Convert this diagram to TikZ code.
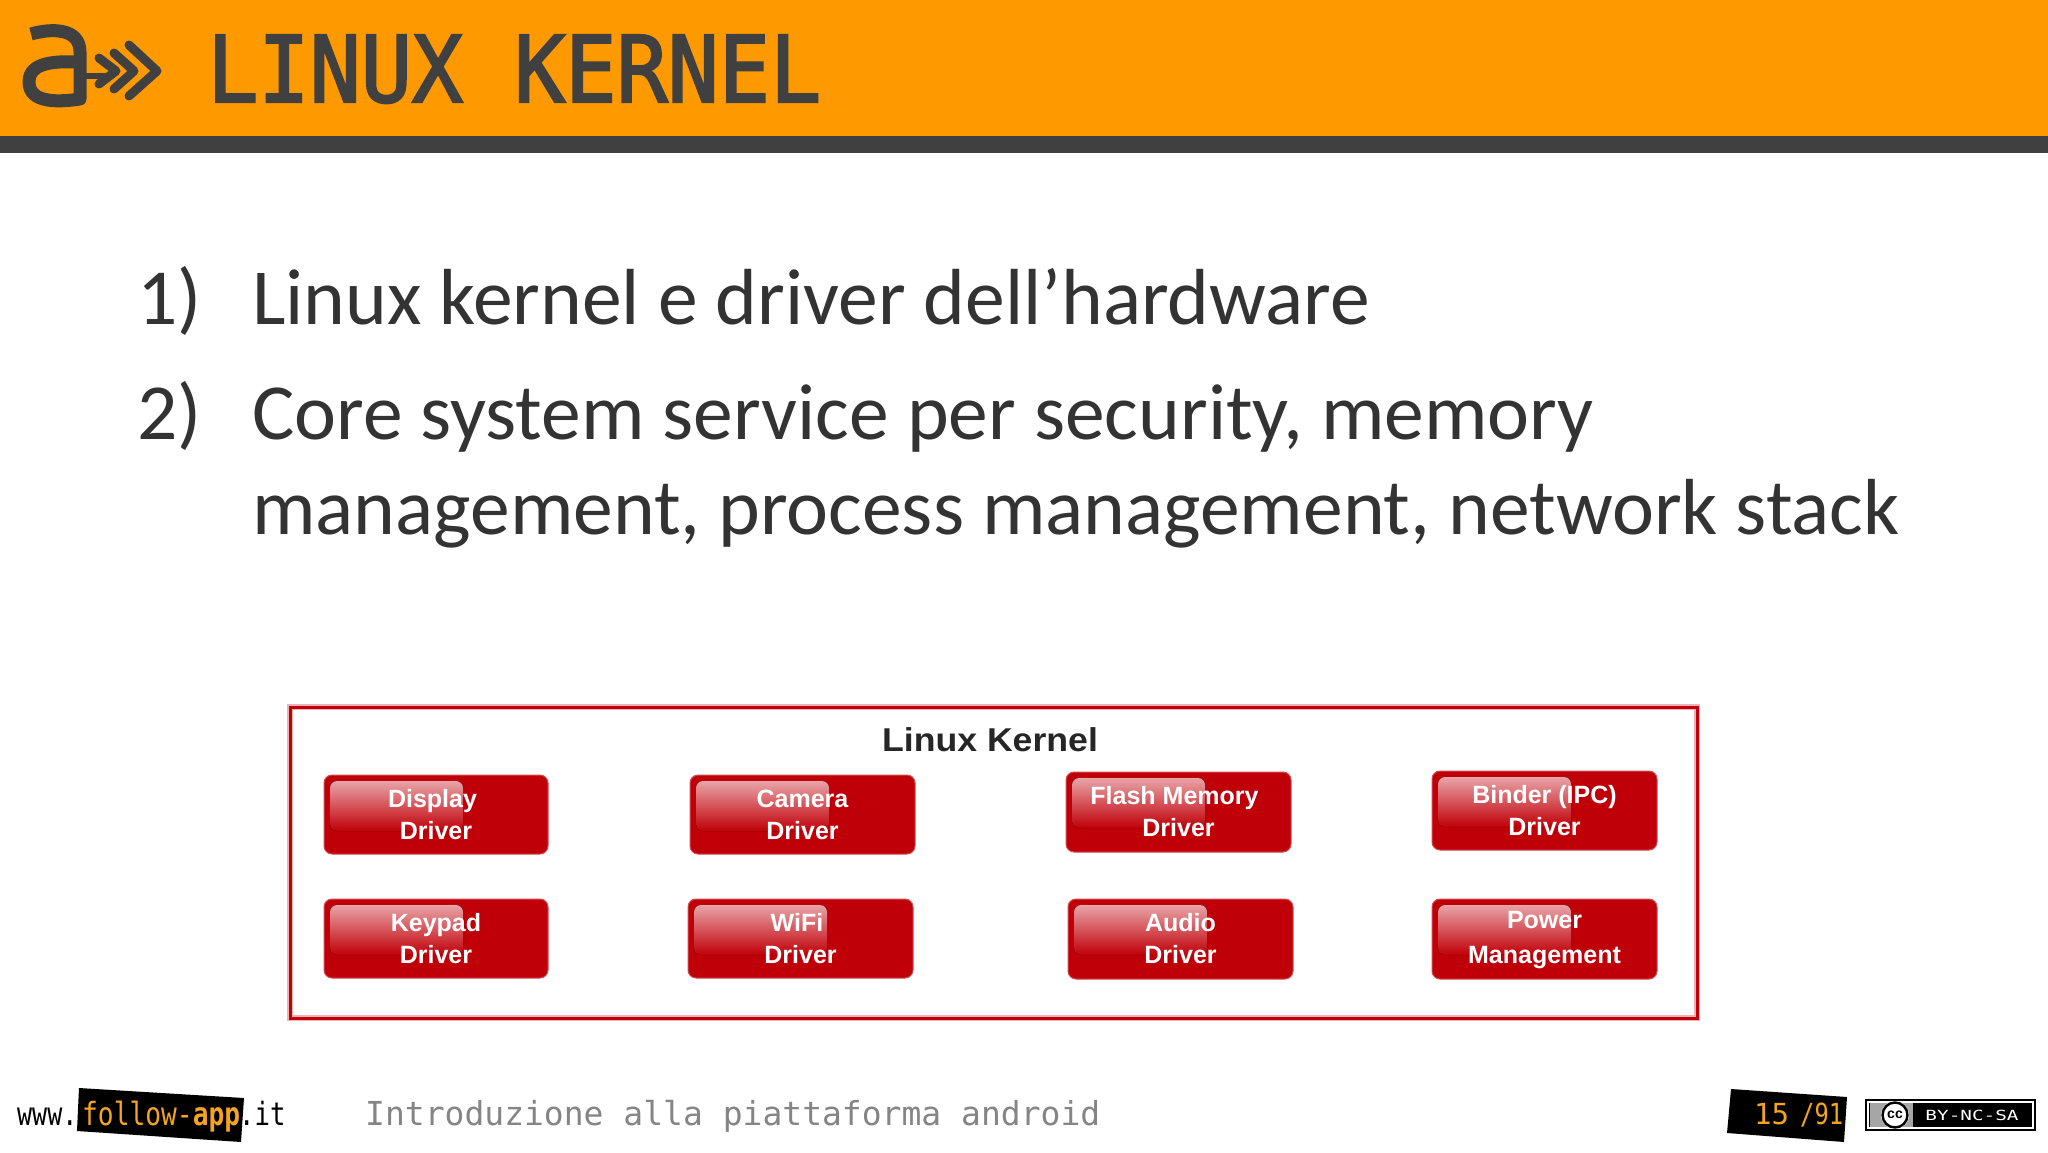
\documentclass[tikz,border=0pt]{standalone}
\usepackage{fontspec}
\setmainfont{Carlito}
\newfontfamily\monof{DejaVu Sans Mono}
\newfontfamily\monotitle[FakeBold=2.5]{DejaVu Sans Mono}
\newfontfamily\armf{Liberation Sans}
\definecolor{hdrorange}{HTML}{FF9900}
\definecolor{hdrdark}{HTML}{404040}
\definecolor{bodyink}{HTML}{333333}
\definecolor{kred}{HTML}{C00008}
\definecolor{kgloss}{HTML}{E8A4A8}
\definecolor{footorange}{HTML}{F5A41E}
\definecolor{footgrey}{HTML}{858585}
\tikzset{
  bodytext/.style={anchor=base west,inner sep=0pt,text=bodyink,font=\fontsize{79.5}{88}\selectfont},
  drvbox/.style={rounded corners=8pt,draw=kred!70!white,line width=1pt,fill=kred},
  gloss/.style={rounded corners=7pt,top color=kgloss,bottom color=kred,shading angle=0},
  btnlabel/.style={inner sep=0pt,align=center,text=white,font=\armf\bfseries\fontsize{25}{32}\selectfont},
  foot/.style={anchor=base west,inner sep=0pt},
  logoline/.style={draw=hdrdark,line cap=round,line join=round},
}
\newcommand{\drv}[7]{% name x1 y1 x2 y2 line1 line2
  \draw[drvbox] (#2,#3) rectangle (#4,#5);
  \fill[gloss] ({#2+6},{#3+6}) rectangle ({#2+139},{#3+56});
  \node[btnlabel] (#1) at ({(#2+#4)/2},{(#3+#5)/2}) {#6\\#7};
}
\begin{document}
\begin{tikzpicture}[x=1pt,y=-1pt]
\useasboundingbox (0,0) rectangle (2048,1152);
\fill[white] (0,0) rectangle (2048,1152);
% header
\fill[hdrorange] (0,0) rectangle (2048,136);
\fill[hdrdark] (0,136) rectangle (2048,153);
% logo
\draw[logoline,line width=13pt,line cap=butt] (31,34) .. controls (52,28) and (80,28) .. (80,52) -- (80,99)
   .. controls (60,102) and (29,104) .. (29,82) .. controls (29,62) and (55,61) .. (80,62);
\draw[logoline,line width=6pt] (82,76) -- (106,76);
\draw[logoline,line width=9pt] (99,58) -- (116,71) -- (99,84);
\draw[logoline,line width=9pt] (114,53) -- (134,71) -- (114,89);
\draw[logoline,line width=9pt] (129,45) -- (157,71) -- (129,96);
\node[anchor=base west,inner sep=0pt,text=hdrdark] (title) at (207,102)
  {\scalebox{1}[1.08]{\monotitle\fontsize{85}{90}\selectfont LINUX KERNEL}};
% body
\node[bodytext] (n1) at (137,324) {1)};
\node[bodytext] (t1) at (252,324) {Linux kernel e driver dell’hardware};
\node[bodytext] (n2) at (137,439) {2)};
\node[bodytext] (t2) at (252,439) {Core system service per security, memory};
\node[bodytext] (t3) at (252,534) {management, process management, network stack};
% kernel box
\draw[draw=kred!30!white,line width=6pt] (290,707) rectangle (1697,1018);
\draw[draw=kred,line width=3pt] (290,707) rectangle (1697,1018);
\node[inner sep=0pt,anchor=base,text=black!85] (kt) at (990,751)
  {\scalebox{1.08}[1]{\armf\bfseries\fontsize{33}{36}\selectfont Linux Kernel}};
\drv{display}{324}{775}{548}{854}{\hspace*{-7pt}Display}{Driver}
\drv{camera}{690}{775}{915}{854}{Camera}{Driver}
\drv{flash}{1066}{772}{1291}{852}{\hspace*{-8pt}Flash Memory}{Driver}
\drv{binder}{1432}{771}{1657}{850}{Binder (IPC)}{Driver}
\drv{keypad}{324}{899}{548}{978}{Keypad}{Driver}
\drv{wifi}{688}{899}{913}{978}{\hspace*{-7pt}WiFi}{Driver}
\drv{audio}{1068}{899}{1293}{979}{Audio}{Driver}
\drv{power}{1432}{899}{1657}{979}{Power}{\raisebox{-3pt}[\height][\depth]{Management}}
% footer left
\fill[black] (79,1088) -- (244,1098) -- (241,1142) -- (77,1131) -- cycle;
\node[foot] (www) at (17,1125) {\scalebox{.78}[1]{\monof\fontsize{32}{36}\selectfont www.}};
\node[foot,text=footorange] (fa) at (82,1125) {\scalebox{.82}[1]{\monof\fontsize{32}{36}\selectfont follow-\bfseries app}};
\node[foot] (it) at (239,1125) {\scalebox{.8}[1]{\monof\fontsize{32}{36}\selectfont .it}};
\node[foot,text=footgrey] (ftitle) at (365,1125) {\monof\fontsize{33}{36}\selectfont Introduzione alla piattaforma android};
% page number
\fill[black] (1731,1089) -- (1847,1097) -- (1844,1142) -- (1727,1133) -- cycle;
\node[foot,text=footorange] (pg) at (1754,1124) {\monof\fontsize{29}{32}\selectfont 15};
\node[foot,text=footorange] (pgt) at (1800,1124) {\scalebox{.82}[1]{\monof\fontsize{29}{32}\selectfont /91}};
% cc badge
\fill[black] (1865,1099) rectangle (2036,1131);
\fill[white] (1867,1101) rectangle (2034,1129);
\fill[black] (1869,1103) rectangle (2032,1127);
\fill[black!35] (1870,1103) rectangle (1913,1127);
\fill[white] (1895,1115) circle (14);
\draw[black,line width=2.4pt] (1895,1115) circle (12.5);
\node[inner sep=0pt,font=\armf\bfseries\fontsize{14}{16}\selectfont] (cc) at (1895,1115) {cc};
\node[inner sep=0pt,text=white] (lic) at (1972,1115) {\scalebox{1.38}[1]{\monof\fontsize{14}{16}\selectfont BY-NC-SA}};
\end{tikzpicture}
\end{document}
